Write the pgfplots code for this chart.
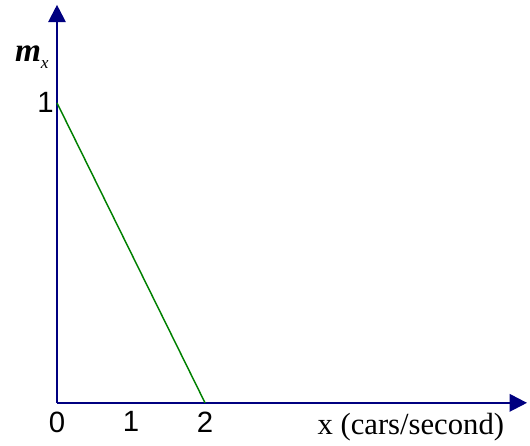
\documentclass[border=0pt]{standalone}
\usepackage{fontspec}
\setmainfont{Liberation Sans}
\newfontfamily\timesf{Liberation Serif}
\usepackage{pgfplots}
\pgfplotsset{compat=1.18}
\usetikzlibrary{arrows.meta}
\definecolor{axnavy}{RGB}{0,0,128}
\definecolor{lgreen}{RGB}{0,128,0}
\begin{document}
\begin{tikzpicture}
\begin{axis}[
  scale only axis,
  width=352.5pt, height=298.5pt,
  xmin=0, xmax=6.35, ymin=0, ymax=1.327,
  axis lines=left,
  axis line style={axnavy, line width=1.6pt, -{Triangle[width=13pt,length=13pt]}},
  xtick={0,1,2}, ytick={1},
  major tick length=0pt,
  tick label style={font=\fontsize{22}{26}\selectfont},
  /pgf/number format/assume math mode=true,
  xticklabel style={yshift=-3pt},
  yticklabel style={xshift=1pt},
  clip=false,
]
\path (axis cs:-0.77,-0.133) rectangle (axis cs:6.39,1.343);
\addplot[lgreen, line width=1.1pt] coordinates {(0,1) (2,0)};
\node[anchor=base] at (axis cs:4.78,-0.107) {\timesf\fontsize{23}{26}\selectfont x (cars/second)};
\node[anchor=base west, inner sep=0pt] at (axis cs:-0.57,1.137) {\timesf\fontsize{25}{28}\selectfont\bfseries\itshape m\raisebox{-5pt}{\mdseries\fontsize{13}{15}\selectfont x}};
\end{axis}
\end{tikzpicture}
\end{document}
